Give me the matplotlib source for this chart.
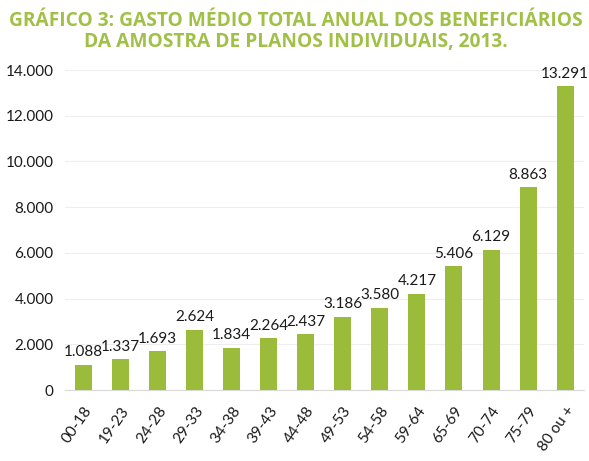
import matplotlib.pyplot as plt

# Data
faixas = ["00-18", "19-23", "24-28", "29-33", "34-38", "39-43", "44-48",
          "49-53", "54-58", "59-64", "65-69", "70-74", "75-79", "80 ou +"]
gasto = [1088, 1337, 1693, 2624, 1834, 2264, 2437,
         3186, 3580, 4217, 5406, 6129, 8863, 13291]

verde = "#9bbb3b"


def fmt(v):
    return f"{v:,}".replace(",", ".")


fig = plt.figure(figsize=(5.89, 4.61), dpi=100)
ax = fig.add_axes([0.110, 0.154, 0.881, 0.694])

x = range(len(faixas))
ax.bar(x, gasto, width=0.46, color=verde, zorder=3)
for i, v in zip(x, gasto):
    ax.text(i, v + 250, fmt(v), ha="center", va="bottom", fontsize=11,
            family="Lato", color="#1a1a1a")

ax.set_xlim(-0.5, len(faixas) - 0.5)
ax.set_ylim(0, 14000)
ax.set_yticks(range(0, 14001, 2000))
ax.set_yticklabels([fmt(v) for v in range(0, 14001, 2000)], family="Lato",
                   fontsize=11, color="#1a1a1a")
ax.set_xticks(list(x))
ax.set_xticklabels(faixas, rotation=55, ha="right", rotation_mode="anchor",
                   family="Lato", fontsize=11, color="#1a1a1a")
ax.tick_params(length=0, axis="both")
ax.tick_params(axis="x", pad=10)
ax.tick_params(axis="y", pad=8)
ax.grid(axis="y", color="#eeeeee", linewidth=0.8, zorder=0)
for s in ["top", "right", "left"]:
    ax.spines[s].set_visible(False)
ax.spines["bottom"].set_color("#d9d9d9")

fig.text(0.503, 0.977, "GRÁFICO 3: GASTO MÉDIO TOTAL ANUAL DOS BENEFICIÁRIOS\n"
         "DA AMOSTRA DE PLANOS INDIVIDUAIS, 2013.",
         ha="center", va="top", fontsize=13.8, fontweight="bold",
         family="Open Sans", color="#a0c046", linespacing=1.12)

plt.savefig("out.png", dpi=100)
